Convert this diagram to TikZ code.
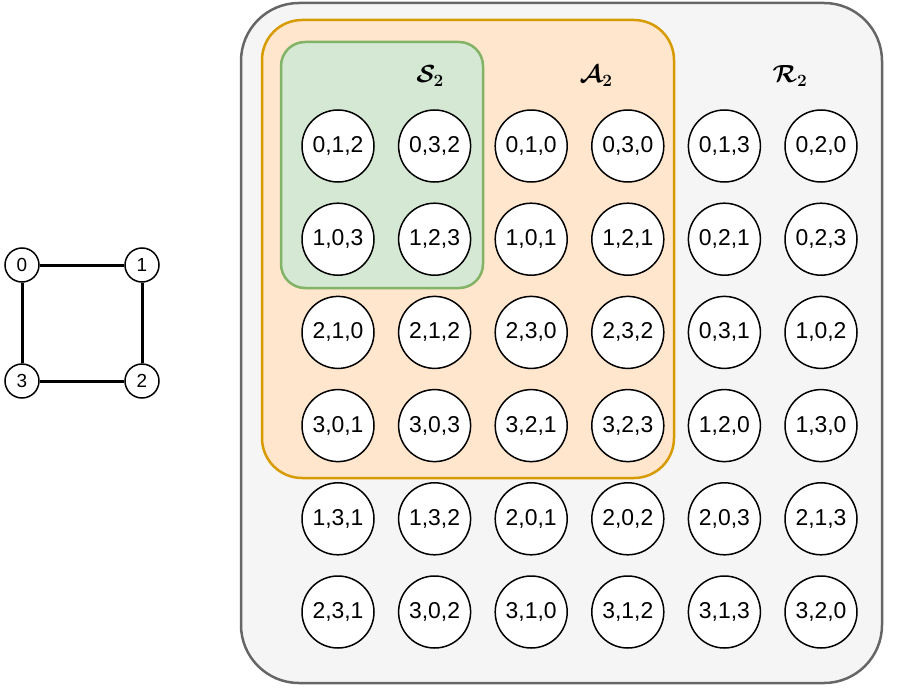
\documentclass[tikz,border=0pt]{standalone}
\usepackage{fontspec}
\setmainfont{Liberation Sans}
\usepackage{amsmath}
\definecolor{outerfill}{HTML}{F5F5F5}
\definecolor{outerline}{HTML}{666666}
\definecolor{orangefill}{HTML}{FFE6CC}
\definecolor{orangeline}{HTML}{D79B00}
\definecolor{greenfill}{HTML}{D5E8D4}
\definecolor{greenline}{HTML}{82B366}
\tikzset{
  state/.style={circle,draw,fill=white,line width=1.5bp,minimum size=72bp,inner sep=0pt,font=\fontsize{23}{23}\selectfont},
  vertex/.style={circle,draw,fill=white,line width=1.5bp,minimum size=34bp,inner sep=0pt,font=\fontsize{19}{19}\selectfont},
  setlabel/.style={font=\fontsize{26}{26}\selectfont\boldmath}
}
\begin{document}
\begin{tikzpicture}[x=1bp,y=-1bp]
  \useasboundingbox (0,0) rectangle (914,692);
  % regions
  \draw[fill=outerfill,draw=outerline,line width=2.5bp,rounded corners=58bp] (241,3) rectangle (882,683);
  \draw[fill=orangefill,draw=orangeline,line width=2.5bp,rounded corners=40bp] (262,20) rectangle (674,478);
  \draw[fill=greenfill,draw=greenline,line width=2.5bp,rounded corners=24bp] (281,42) rectangle (483,288);
  \node[setlabel] (S) at (430,76) {$\mathcal{S}_2$};
  \node[setlabel] (A) at (596,76) {$\mathcal{A}_2$};
  \node[setlabel] (R) at (790,76) {$\mathcal{R}_2$};
  % states
  \foreach \lbl [count=\i from 0] in {{0,1,2},{0,3,2},{0,1,0},{0,3,0},{0,1,3},{0,2,0},
      {1,0,3},{1,2,3},{1,0,1},{1,2,1},{0,2,1},{0,2,3},
      {2,1,0},{2,1,2},{2,3,0},{2,3,2},{0,3,1},{1,0,2},
      {3,0,1},{3,0,3},{3,2,1},{3,2,3},{1,2,0},{1,3,0},
      {1,3,1},{1,3,2},{2,0,1},{2,0,2},{2,0,3},{2,1,3},
      {2,3,1},{3,0,2},{3,1,0},{3,1,2},{3,1,3},{3,2,0}}{
    \pgfmathtruncatemacro{\col}{mod(\i,6)}
    \pgfmathtruncatemacro{\row}{div(\i,6)}
    \pgfmathsetmacro{\xx}{338+96.6*\col}
    \pgfmathsetmacro{\yy}{146+93.2*\row}
    \node[state] (s-\row-\col) at (\xx,\yy) {\lbl};
  }
  % graph
  \node[vertex] (v0) at (22,265) {0};
  \node[vertex] (v1) at (142,265) {1};
  \node[vertex] (v2) at (142,381) {2};
  \node[vertex] (v3) at (22,381) {3};
  \draw[line width=3bp] (v0) -- (v1) (v1) -- (v2) (v2) -- (v3) (v3) -- (v0);
\end{tikzpicture}
\end{document}
